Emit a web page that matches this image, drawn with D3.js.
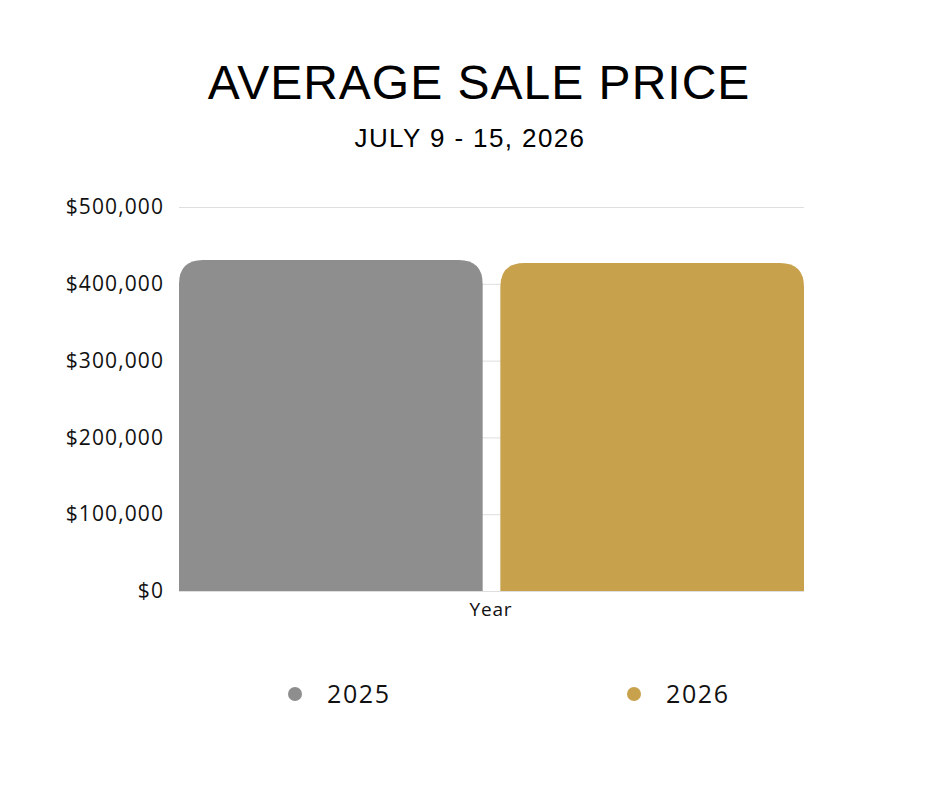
<!DOCTYPE html>
<html lang="en">
<head>
<meta charset="utf-8" />
<script type="text/javascript" src="https://d3js.org/d3.v7.min.js"></script>
<style type="text/css">
  body { margin: 0; background: #fff; }
  .tick text { font-family: "Open Sans", sans-serif; }
</style>
</head>
<body>
<script type="text/javascript">

var years = ["2025", "2026"];
var prices = [431000, 427000];
var colors = ["#8e8e8e", "#c8a14d"];
var yTicks = [0, 100000, 200000, 300000, 400000, 500000];

var w = 940;
var h = 788;
var plotLeft = 179, plotRight = 804, plotTop = 207, plotBottom = 591;

var svg = d3.select("body")
            .append("svg")
            .attr("width", w)
            .attr("height", h);

// titles
svg.append("text")
   .attr("x", 479)
   .attr("y", 99)
   .attr("text-anchor", "middle")
   .style("font-family", "'Liberation Sans', Arial, sans-serif")
   .style("font-size", "48px")
   .style("letter-spacing", "1px")
   .text("AVERAGE SALE PRICE");

svg.append("text")
   .attr("x", 470)
   .attr("y", 147)
   .attr("text-anchor", "middle")
   .style("font-family", "'Liberation Sans', Arial, sans-serif")
   .style("font-size", "26px")
   .style("letter-spacing", "1.4px")
   .text("JULY 9 - 15, 2026");

var x = d3.scaleBand()
          .domain(years)
          .range([plotLeft, plotRight])
          .paddingInner(0.055)
          .paddingOuter(0);

var y = d3.scaleLinear()
          .domain([0, 500000])
          .range([plotBottom, plotTop]);

// grid lines
svg.append("g")
   .selectAll("line")
   .data(yTicks)
   .enter()
   .append("line")
   .attr("x1", plotLeft)
   .attr("x2", plotRight)
   .attr("y1", function(d) { return y(d) + 0.5; })
   .attr("y2", function(d) { return y(d) + 0.5; })
   .attr("stroke", "#dedede")
   .attr("stroke-width", 1);

// y axis labels
var yAxis = d3.axisLeft(y)
              .tickValues(yTicks)
              .tickSize(0)
              .tickPadding(15)
              .tickFormat(function(d) { return "$" + d3.format(",")(d); });

var ya = svg.append("g")
            .attr("transform", "translate(" + plotLeft + ",0)")
            .call(yAxis);
ya.select(".domain").remove();
ya.selectAll("text")
  .style("font-size", "21px")
  .style("letter-spacing", "1.1px")
  .attr("fill", "#111");

// bars with rounded tops
var r = 24;
function barPath(d, i) {
  var x0 = x(years[i]), x1 = x0 + x.bandwidth();
  var y0 = y(d), y1 = y(0);
  return "M" + x0 + "," + y1 +
         "L" + x0 + "," + (y0 + r) +
         "Q" + x0 + "," + y0 + " " + (x0 + r) + "," + y0 +
         "L" + (x1 - r) + "," + y0 +
         "Q" + x1 + "," + y0 + " " + x1 + "," + (y0 + r) +
         "L" + x1 + "," + y1 + "Z";
}

svg.selectAll("path.bar")
   .data(prices)
   .enter()
   .append("path")
   .attr("class", "bar")
   .attr("d", barPath)
   .attr("fill", function(d, i) { return colors[i]; });

// x axis label
svg.append("text")
   .attr("x", 491)
   .attr("y", 616)
   .attr("text-anchor", "middle")
   .style("font-family", "'Open Sans', sans-serif")
   .style("font-size", "19px")
   .style("letter-spacing", "0.8px")
   .attr("fill", "#111")
   .text("Year");

// legend
var legendX = [295, 634];
var lg = svg.selectAll("g.legend")
            .data(years)
            .enter()
            .append("g")
            .attr("class", "legend")
            .attr("transform", function(d, i) { return "translate(" + legendX[i] + ",694)"; });
lg.append("circle")
  .attr("r", 7)
  .attr("fill", function(d, i) { return colors[i]; });
lg.append("text")
  .attr("x", 32)
  .attr("y", 9)
  .style("font-family", "'Open Sans', sans-serif")
  .style("font-size", "25px")
  .style("letter-spacing", "1.6px")
  .attr("fill", "#111")
  .text(function(d) { return d; });

</script>
</body>
</html>
